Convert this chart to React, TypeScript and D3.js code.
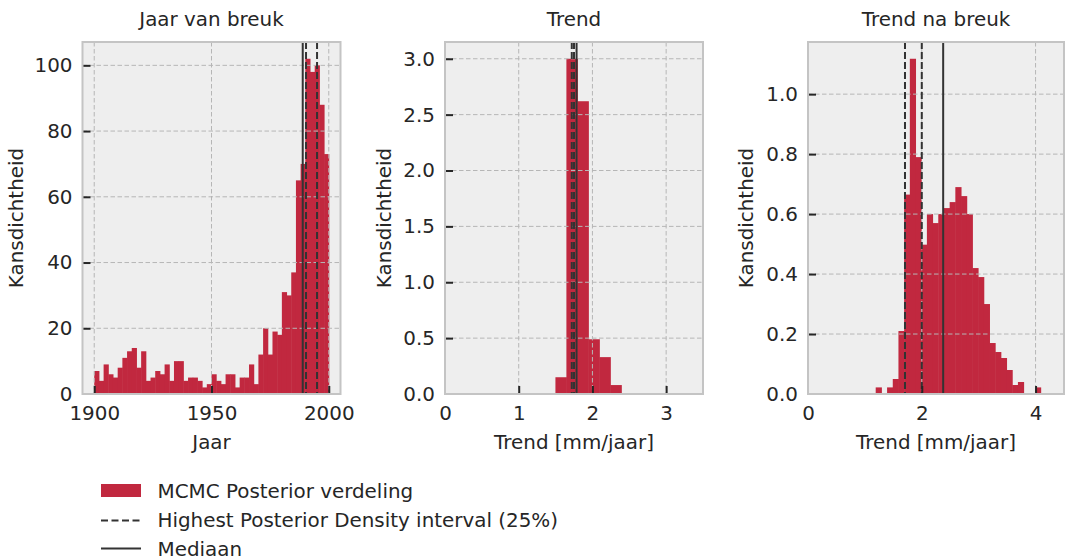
import React, { useEffect, useRef } from 'react';
import * as d3 from 'd3';

// Jaar van breuk: 2-year bins starting at 1900
const jaarStart = 1900;
const jaarBin = 2;
const jaarCounts = [
  7, 4, 9, 6, 5, 8, 11, 13, 14, 8, 13, 4, 5, 7, 6, 9, 4, 10, 10, 4, 5, 5, 4, 2, 3,
  6, 4, 3, 6, 6, 2, 5, 5, 9, 3, 12, 20, 12, 19, 18, 31, 30, 37, 65, 70, 102, 98, 100, 88, 73,
];
const jaarHpd = [1990.3, 1995.0];
const jaarMedian = 1988.9;

// Trend (mm/jaar)
const trendStart = 1.498;
const trendBin = 0.149;
const trendDensity = [0.15, 3.0, 2.62, 0.49, 0.33, 0.08];
const trendHpd = [1.72, 1.75];
const trendMedian = 1.785;

// Trend na breuk (mm/jaar)
const naStart = 1.19;
const naBin = 0.1;
const naDensity = [
  0.022, 0, 0.022, 0.05, 0.21, 0.665, 1.118, 0.79, 0.498, 0.6, 0.57, 0.6, 0.62, 0.64, 0.69,
  0.66, 0.6, 0.42, 0.39, 0.3, 0.17, 0.14, 0.12, 0.08, 0.03, 0.04, 0, 0, 0.022,
];
const naHpd = [1.705, 2.0];
const naMedian = 2.376;

const titles = ['Jaar van breuk', 'Trend', 'Trend na breuk'];
const xLabels = ['Jaar', 'Trend [mm/jaar]', 'Trend [mm/jaar]'];
const yLabel = 'Kansdichtheid';
const legendLabels = [
  'MCMC Posterior verdeling',
  'Highest Posterior Density interval (25%)',
  'Mediaan',
];

const FONT = "'DejaVu Sans', sans-serif";
const TEXT = '#262626';
const BAR = '#c1283f';
const LINE = '#333333';

const App = () => {
  const chart = useRef<SVGSVGElement>(null);

  useEffect(() => {
    document.body.style.margin = '0';
    const svg = d3.select(chart.current);
    svg.selectAll('*').remove();

    const top = 42;
    const bottom = 394;
    const fs = 19.9;

    const panels = [
      {
        left: 82.5, right: 340.5, xDomain: [1895, 2005],
        start: jaarStart, bin: jaarBin, heights: jaarCounts,
        hpd: jaarHpd, median: jaarMedian,
        xTicks: [1900, 1950, 2000], yTicks: [0, 20, 40, 60, 80, 100],
        xFmt: d3.format('d'), yFmt: d3.format('d'), labelX: 16,
      },
      {
        left: 445, right: 703, xDomain: [0, 3.5],
        start: trendStart, bin: trendBin, heights: trendDensity,
        hpd: trendHpd, median: trendMedian,
        xTicks: [0, 1, 2, 3], yTicks: [0, 0.5, 1, 1.5, 2, 2.5, 3],
        xFmt: d3.format('d'), yFmt: d3.format('.1f'), labelX: 384,
      },
      {
        left: 808, right: 1064, xDomain: [0, 4.5],
        start: naStart, bin: naBin, heights: naDensity,
        hpd: naHpd, median: naMedian,
        xTicks: [0, 2, 4], yTicks: [0, 0.2, 0.4, 0.6, 0.8, 1.0],
        xFmt: d3.format('d'), yFmt: d3.format('.1f'), labelX: 746,
      },
    ];

    panels.forEach((p, i) => {
      const x = d3.scaleLinear().domain(p.xDomain).range([p.left, p.right]);
      const y = d3
        .scaleLinear()
        .domain([0, (d3.max(p.heights) as number) * 1.05])
        .range([bottom, top]);
      const g = svg.append('g');

      g.append('rect')
        .attr('x', p.left)
        .attr('y', top)
        .attr('width', p.right - p.left)
        .attr('height', bottom - top)
        .attr('fill', '#eeeeee');

      g.append('g')
        .selectAll('rect')
        .data(p.heights)
        .join('rect')
        .attr('x', (d, j) => x(p.start + j * p.bin))
        .attr('y', (d) => y(d))
        .attr('width', (d, j) => x(p.start + (j + 1) * p.bin) - x(p.start + j * p.bin) + 0.5)
        .attr('height', (d) => bottom - y(d))
        .attr('fill', BAR);

      // grid (drawn over the bars, as in the original)
      const grid = g.append('g')
        .attr('stroke', '#b6b6b6')
        .attr('stroke-width', 1)
        .attr('stroke-dasharray', '4.5,2.5');
      grid.selectAll('.gx')
        .data(p.xTicks)
        .join('line')
        .attr('x1', (d) => x(d))
        .attr('x2', (d) => x(d))
        .attr('y1', top)
        .attr('y2', bottom);
      grid.selectAll('.gy')
        .data(p.yTicks)
        .join('line')
        .attr('x1', p.left)
        .attr('x2', p.right)
        .attr('y1', (d) => y(d))
        .attr('y2', (d) => y(d));

      // hpd + median
      g.selectAll('.hpd')
        .data(p.hpd)
        .join('line')
        .attr('x1', (d) => x(d))
        .attr('x2', (d) => x(d))
        .attr('y1', top)
        .attr('y2', bottom)
        .attr('stroke', LINE)
        .attr('stroke-width', 2)
        .attr('stroke-dasharray', '7,3');
      g.append('line')
        .attr('x1', x(p.median))
        .attr('x2', x(p.median))
        .attr('y1', top)
        .attr('y2', bottom)
        .attr('stroke', LINE)
        .attr('stroke-width', 2);

      const xAxis = d3
        .axisBottom(x)
        .tickValues(p.xTicks)
        .tickFormat((d) => p.xFmt(d as number))
        .tickSize(-8)
        .tickPadding(11.5);
      const xg = g.append('g')
        .attr('transform', `translate(0,${bottom})`)
        .call(xAxis);

      const yAxis = d3
        .axisLeft(y)
        .tickValues(p.yTicks)
        .tickFormat((d) => p.yFmt(d as number))
        .tickSize(-8)
        .tickPadding(10);
      const yg = g.append('g')
        .attr('transform', `translate(${p.left},0)`)
        .call(yAxis);

      [xg, yg].forEach((ax) => {
        ax.select('.domain').remove();
        ax.selectAll('line').attr('stroke', TEXT).attr('stroke-width', 2);
        ax.selectAll('text')
          .attr('fill', TEXT)
          .style('font-family', FONT)
          .style('font-size', `${fs}px`);
      });
      // ticks sitting on the spine are hidden
      xg.selectAll('.tick')
        .filter((d) => x(d as number) - p.left < 2)
        .select('line')
        .remove();
      yg.selectAll('.tick')
        .filter((d) => d === 0)
        .select('line')
        .remove();

      g.append('rect')
        .attr('x', p.left)
        .attr('y', top)
        .attr('width', p.right - p.left)
        .attr('height', bottom - top)
        .attr('fill', 'none')
        .attr('stroke', '#c4c4c4')
        .attr('stroke-width', 2);

      g.append('text')
        .attr('x', (p.left + p.right) / 2)
        .attr('y', 26)
        .attr('text-anchor', 'middle')
        .attr('fill', TEXT)
        .style('font-family', FONT)
        .style('font-size', `${fs}px`)
        .text(titles[i]);

      g.append('text')
        .attr('x', (p.left + p.right) / 2)
        .attr('y', 449)
        .attr('text-anchor', 'middle')
        .attr('fill', TEXT)
        .style('font-family', FONT)
        .style('font-size', `${fs}px`)
        .text(xLabels[i]);

      g.append('text')
        .attr('transform', `translate(${p.labelX},${(top + bottom) / 2}) rotate(-90)`)
        .attr('text-anchor', 'middle')
        .attr('dy', '0.35em')
        .attr('fill', TEXT)
        .style('font-family', FONT)
        .style('font-size', `${fs}px`)
        .text(yLabel);
    });

    // legend
    const legend = svg.append('g');
    const rows = [490.5, 520.5, 548.5];
    legend.append('rect')
      .attr('x', 101)
      .attr('y', 484)
      .attr('width', 40)
      .attr('height', 13)
      .attr('fill', BAR);
    legend.append('line')
      .attr('x1', 101).attr('x2', 141)
      .attr('y1', rows[1]).attr('y2', rows[1])
      .attr('stroke', LINE).attr('stroke-width', 2)
      .attr('stroke-dasharray', '7,3.5');
    legend.append('line')
      .attr('x1', 101).attr('x2', 141)
      .attr('y1', rows[2]).attr('y2', rows[2])
      .attr('stroke', LINE).attr('stroke-width', 2);
    legend.selectAll('text')
      .data(legendLabels)
      .join('text')
      .attr('x', 157.5)
      .attr('y', (d, j) => [498, 527, 556][j])
      .attr('fill', TEXT)
      .style('font-family', FONT)
      .style('font-size', `${fs}px`)
      .text((d) => d);
  }, []);

  return (
    <svg
      ref={chart}
      width={1067}
      height={559}
      style={{ display: 'block', background: '#ffffff' }}
    />
  );
};

export default App;
